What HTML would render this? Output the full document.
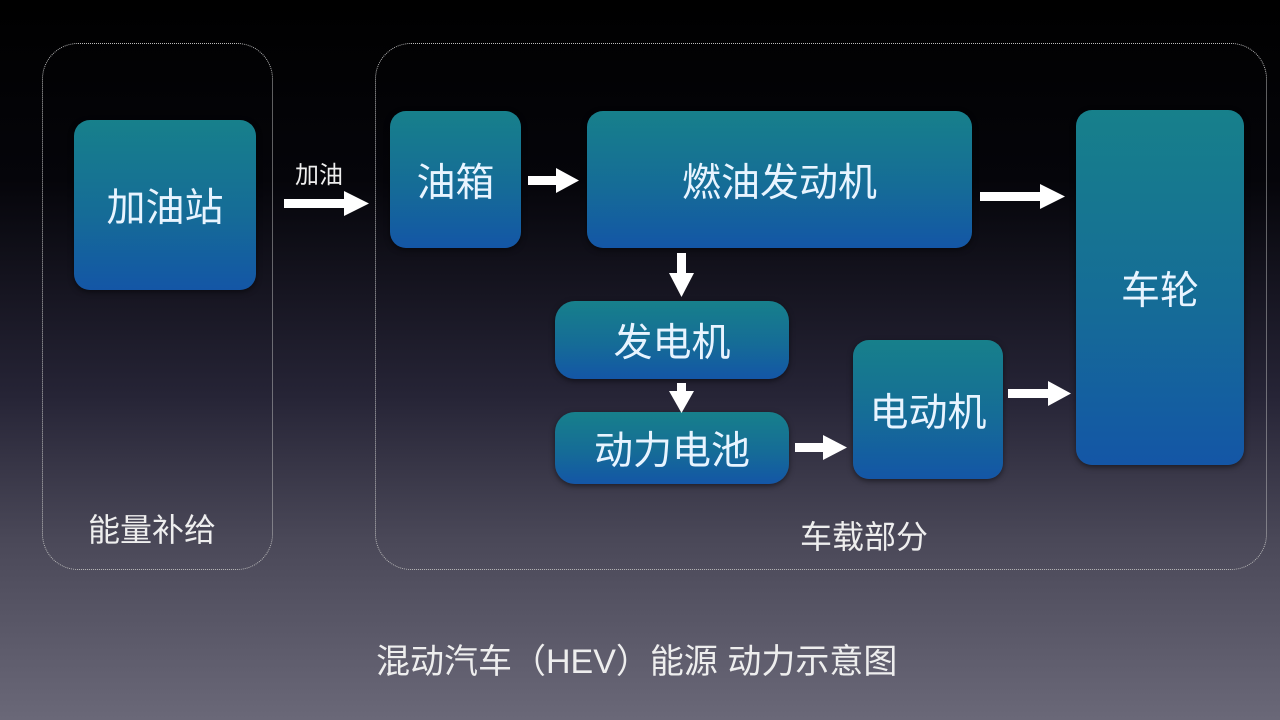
<!DOCTYPE html>
<html><head><meta charset="utf-8"><style>
*{margin:0;padding:0;box-sizing:border-box}
body{width:1280px;height:720px;overflow:hidden;position:relative;font-family:"Liberation Sans","Noto Sans CJK SC",sans-serif;color:#fff;
background:linear-gradient(180deg,#000 0%,#05050a 25%,#262436 55%,#4a4858 75%,#6a6878 100%)}
.c{position:absolute;border:1.5px dotted #bbb;border-radius:36px}
.b{position:absolute;border-radius:16px;background:linear-gradient(180deg,#17808b 0%,#156c97 55%,#1456a6 100%);display:flex;align-items:center;justify-content:center;color:#e8f4ff;font-size:39px;box-shadow:0 2px 6px rgba(0,0,0,.5)}
.t{position:absolute;color:#eee;white-space:nowrap}
</style></head><body>
<div class="c" style="left:42px;top:43px;width:231px;height:527px"></div>
<div class="c" style="left:375px;top:43px;width:892px;height:527px"></div>
<div class="b" style="left:74px;top:120px;width:182px;height:170px">加油站</div>
<div class="b" style="left:390px;top:111px;width:131px;height:137px">油箱</div>
<div class="b" style="left:587px;top:111px;width:385px;height:137px">燃油发动机</div>
<div class="b" style="left:1076px;top:110px;width:168px;height:355px">车轮</div>
<div class="b" style="left:555px;top:301px;width:234px;height:78px;border-radius:20px">发电机</div>
<div class="b" style="left:555px;top:412px;width:234px;height:72px;border-radius:20px">动力电池</div>
<div class="b" style="left:853px;top:340px;width:150px;height:139px">电动机</div>
<div class="t" style="left:295px;top:155px;font-size:24px">加油</div>
<div class="t" style="left:88px;top:505px;font-size:32px">能量补给</div>
<div class="t" style="left:800px;top:512px;font-size:32px">车载部分</div>
<div class="t" style="left:376px;top:634px;font-size:34px">混动汽车（HEV）能源 动力示意图</div>
<svg width="1280" height="720" style="position:absolute;left:0;top:0" fill="#fff">
<rect x="284" y="199" width="62" height="9"/><polygon points="344,191 369,203.5 344,216"/>
<rect x="528" y="176" width="30" height="9"/><polygon points="556,168 579,180.5 556,193"/>
<rect x="980" y="192" width="62" height="9"/><polygon points="1040,184 1065,196.5 1040,209"/>
<rect x="677" y="253" width="9" height="22"/><polygon points="669,273 694,273 681.5,297"/>
<rect x="677" y="383" width="9" height="10"/><polygon points="669,391 694,391 681.5,413"/>
<rect x="795" y="443" width="30" height="9"/><polygon points="823,435 847,447.5 823,460"/>
<rect x="1008" y="389" width="42" height="9"/><polygon points="1048,381 1071,393.5 1048,406"/>
</svg>
</body></html>
